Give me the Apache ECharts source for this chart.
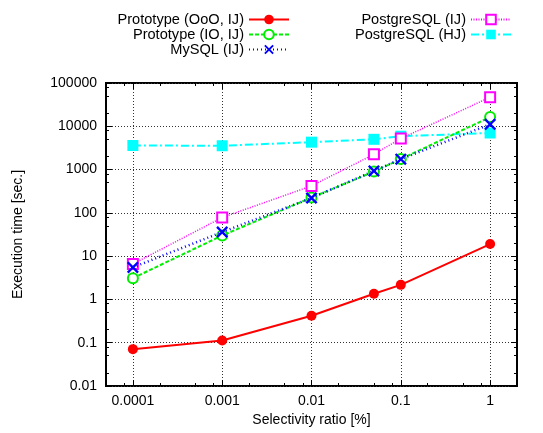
<!DOCTYPE html>
<html>
<head>
<meta charset="utf-8">
<script src="https://cdn.jsdelivr.net/npm/echarts@6/dist/echarts.min.js"></script>
<style>
html, body { margin: 0; padding: 0; background: #fff; }
#chart { width: 543px; height: 433px; }
</style>
</head>
<body>
<div id="chart"></div>
<script>
// values
var selectivity = [0.0001, 0.001, 0.01, 0.05, 0.1, 1];
var protoOoO = [0.071, 0.113, 0.42, 1.35, 2.17, 19];
var protoIO = [3.1, 30, 225, 900, 1750, 16300];
var mysql = [5.5, 36, 220, 930, 1740, 11100];
var pgIJ = [6.6, 78, 420, 2250, 5200, 47000];
var pgHJ = [3600, 3550, 4300, 5000, 5900, 7000];

var xTicks = [0.0001, 0.001, 0.01, 0.1, 1];
var xTickLabels = ["0.0001", "0.001", "0.01", "0.1", "1"];
var yTicks = [0.01, 0.1, 1, 10, 100, 1000, 10000, 100000];
var yTickLabels = ["0.01", "0.1", "1", "10", "100", "1000", "10000", "100000"];

var FONT = "Liberation Sans";

function pairs(ys) {
  return selectivity.map(function (x, i) { return [x, ys[i]]; });
}

// minor tics at 2, 5, 8 of each decade (gnuplot style)
function minorTicks(lo, hi) {
  var out = [];
  for (var e = Math.floor(Math.log10(lo)); e <= Math.ceil(Math.log10(hi)); e++) {
    [2, 5, 8].forEach(function (m) {
      var v = m * Math.pow(10, e);
      if (v > lo && v < hi) out.push(v);
    });
  }
  return out;
}

function labelFor(ticks, labels) {
  return function (v) {
    for (var i = 0; i < ticks.length; i++) {
      if (Math.abs(Math.log10(v) - Math.log10(ticks[i])) < 1e-6) return labels[i];
    }
    return "";
  };
}

var xMin = 0.00005, xMax = 2, yMin = 0.01, yMax = 100000;

function xAx(pos, ticks, len, main) {
  return {
    type: "log", position: pos, min: xMin, max: xMax,
    axisLine: { show: false },
    axisTick: { show: true, inside: true, length: len, customValues: ticks,
      lineStyle: { color: "#000", width: 1 } },
    axisLabel: { show: main, margin: 8, fontSize: 14, fontFamily: FONT, color: "#000",
      customValues: main ? xTicks : undefined,
      formatter: labelFor(xTicks, xTickLabels) },
    splitLine: { show: false },
    name: main ? "Selectivity ratio [%]" : "",
    nameLocation: "middle", nameGap: 27,
    nameTextStyle: { fontSize: 14, fontFamily: FONT, color: "#000" }
  };
}

function yAx(pos, ticks, len, main) {
  return {
    type: "log", position: pos, min: yMin, max: yMax,
    axisLine: { show: false },
    axisTick: { show: true, inside: true, length: len, customValues: ticks,
      lineStyle: { color: "#000", width: 1 } },
    axisLabel: { show: main, margin: 9, fontSize: 14, fontFamily: FONT, color: "#000",
      customValues: main ? yTicks : undefined,
      formatter: labelFor(yTicks, yTickLabels) },
    splitLine: { show: false },
    name: main ? "Execution time [sec.]" : "",
    nameLocation: "middle", nameGap: 81,
    nameTextStyle: { fontSize: 14, fontFamily: FONT, color: "#000" }
  };
}

var xMinor = minorTicks(xMin, xMax);
var yMinor = minorTicks(yMin, yMax);

var chart = echarts.init(document.getElementById("chart"));

var gridStyle = { color: "#333", width: 1, type: [1, 2] };

var option = {
  animation: false,
  backgroundColor: "#fff",
  grid: { left: 106, right: 26, top: 83, bottom: 47, show: true,
    borderColor: "#000", borderWidth: 2, backgroundColor: "transparent" },
  xAxis: [
    xAx("bottom", xTicks, 6, true),
    xAx("top", xTicks, 6, false),
    xAx("bottom", xMinor, 3, false),
    xAx("top", xMinor, 3, false)
  ],
  yAxis: [
    yAx("left", yTicks, 6, true),
    yAx("right", yTicks, 6, false),
    yAx("left", yMinor, 3, false),
    yAx("right", yMinor, 3, false)
  ],
  legend: [
    { name: "Prototype (OoO, IJ)", right: 253, top: 12 },
    { name: "Prototype (IO, IJ)", right: 253, top: 27 },
    { name: "MySQL (IJ)", right: 253, top: 42 },
    { name: "PostgreSQL (IJ)", right: 31, top: 12 },
    { name: "PostgreSQL (HJ)", right: 31, top: 27 }
  ].map(function (l) {
    return {
      data: [l.name], right: l.right, top: l.top, align: "right", orient: "vertical",
      itemWidth: 40, itemHeight: 12, selectedMode: false, padding: 0,
      textStyle: { fontSize: 14.6, fontFamily: FONT, color: "#000" }
    };
  }),
  series: [
    {
      name: "Prototype (OoO, IJ)", type: "line", data: pairs(protoOoO),
      symbol: "circle", symbolSize: 10,
      lineStyle: { color: "#ff0000", width: 2, type: "solid" },
      itemStyle: { color: "#ff0000" }, z: 5
    },
    {
      name: "Prototype (IO, IJ)", type: "line", data: pairs(protoIO),
      symbol: "emptyCircle", symbolSize: 10,
      lineStyle: { color: "#00ee00", width: 2, type: [4, 2] },
      itemStyle: { color: "#00ee00", borderColor: "#00ee00", borderWidth: 2 }, z: 3
    },
    {
      name: "MySQL (IJ)", type: "line", data: pairs(mysql),
      symbol: "path://M0,1.4 L1.4,0 L5,3.6 L8.6,0 L10,1.4 L6.4,5 L10,8.6 L8.6,10 L5,6.4 L1.4,10 L0,8.6 L3.6,5 Z",
      symbolSize: 12,
      lineStyle: { color: "#0000ff", width: 2.5, type: [1, 3] },
      itemStyle: { color: "#0000ff" }, z: 4
    },
    {
      name: "PostgreSQL (IJ)", type: "line", data: pairs(pgIJ),
      symbol: "emptyRect", symbolSize: 10,
      lineStyle: { color: "#ff00ff", width: 1.5, type: [1, 1.5] },
      itemStyle: { color: "#ff00ff", borderColor: "#ff00ff", borderWidth: 2 }, z: 3
    },
    {
      name: "PostgreSQL (HJ)", type: "line", data: pairs(pgHJ),
      symbol: "rect", symbolSize: 11,
      lineStyle: { color: "#00ffff", width: 2, type: [8, 3, 2, 3] },
      itemStyle: { color: "#00ffff" }, z: 2
    }
  ]
};

// dotted grid at the major decades, drawn through a spare axis pair
option.xAxis.push({
  type: "log", position: "bottom", min: xMin, max: xMax,
  axisLine: { show: false }, axisLabel: { show: false }, axisTick: { show: false, customValues: xTicks },
  splitLine: { show: true, lineStyle: gridStyle }
});
option.yAxis.push({
  type: "log", position: "left", min: yMin, max: yMax,
  axisLine: { show: false }, axisLabel: { show: false }, axisTick: { show: false, customValues: yTicks },
  splitLine: { show: true, lineStyle: gridStyle }
});

chart.setOption(option);
</script>
</body>
</html>
